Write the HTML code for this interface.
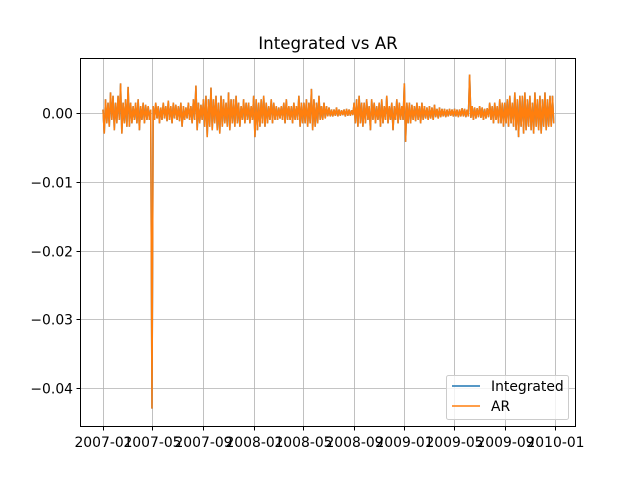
<!DOCTYPE html>
<html><head><meta charset="utf-8"><style>
body{margin:0;background:#fff}
svg{display:block;font-family:"DejaVu Sans","Liberation Sans",sans-serif}
</style></head><body>
<svg id="chart" width="640" height="480">
<rect width="640" height="480" fill="#fff"/>
<text x="328" y="49" font-size="16.7" text-anchor="middle">Integrated vs AR</text>
<g id="grid"></g><g id="series"></g><g id="axes"></g>
<rect x="80.5" y="58.5" width="495" height="368" fill="none" stroke="#000" stroke-width="1"/>
<g>
<rect x="446.5" y="375.5" width="122" height="44" rx="2" fill="#fff" fill-opacity="0.8" stroke="#ccc"/>
<g><line x1="452" y1="386" x2="480" y2="386" stroke="#1f77b4" stroke-width="1.5"/><text x="491" y="391" font-size="13.9">Integrated</text></g>
<g><line x1="452" y1="406" x2="480" y2="406" stroke="#ff7f0e" stroke-width="1.5"/><text x="491" y="411" font-size="13.9">AR</text></g>
</g>
</svg>
<script>
const yTicks=[0,-0.01,-0.02,-0.03,-0.04];
const yTickLabels=["0.00","−0.01","−0.02","−0.03","−0.04"];
const xTickLabels=["2007-01","2007-05","2007-09","2008-01","2008-05","2008-09","2009-01","2009-05","2009-09","2010-01"];
const xTickDates=["2007-01-01","2007-05-01","2007-09-01","2008-01-01","2008-05-01","2008-09-01","2009-01-01","2009-05-01","2009-09-01","2010-01-01"];
const startDate="2007-01-01", endDate="2010-01-01";
// per-period high and low values (x1e-3)
const arHigh=[
0.5,2,1.5,3,2.5,1.5,2.5,4.3,1.5,2,3.8,1.5,1,1.5,2,1,1.5,1.2,1,0.5,
1,1.5,1,0.8,1.5,1,1.8,1,1.5,1.2,1,1.5,1,0.8,1.5,1,2,4,1.5,1.2,
2,2.5,2,3.7,2,2.5,1.5,2.5,2,1.5,3,2,2,2.5,1.5,1,2,1.5,1.5,1,
2.5,2,1.5,2,2.5,1.5,1,2,1.5,1,0.8,1,1.5,2,1,1,1.5,1,2.5,1.5,
1.5,2,1.5,3.5,2,1.5,2.5,1,1.5,1,0.8,0.5,0.5,0.8,0.5,0.4,0.5,0.6,0.5,0.4,
1.5,2,2.5,1.5,1.5,2,1,2,1.5,1,1.5,2,1,2.5,1,1.5,1,2,1.5,1,
4.3,1.5,1.5,1.2,1,1.5,1,1.5,1,0.8,1,0.8,1.2,0.6,0.8,0.6,0.6,0.5,0.6,0.5,
0.6,0.5,0.5,0.7,0.6,0.5,5.6,1,0.8,0.7,1,0.8,0.6,0.7,1.5,1,1.5,1,2,1.5,
1.5,2,2.5,1.5,3,2,2.5,2.5,3,2,2.5,1.5,3,2,2.5,2,3,2,2.5,2.5];
const arLow=[
-3,-1.5,-2,-1,-2.5,-1.5,-1,-3,-1.5,-2,-2,-1.5,-1,-1.5,-2.5,-1,-1.5,-1,-1,-43,
-1,-0.8,-1.5,-1,-0.8,-1.2,-1,-1.5,-0.8,-1,-1.2,-2,-1,-0.8,-1,-1.5,-1,-2.5,-1.5,-1,
-2,-3.5,-2,-2.5,-1.5,-2.5,-3,-2,-1.5,-2,-2.5,-1.5,-2,-1.5,-2,-1,-1.5,-1,-1.5,-1,
-3.5,-2.5,-2,-1.5,-2,-1.5,-1,-1.5,-1,-1,-0.8,-1,-1.5,-1,-1,-1.5,-1,-1,-2,-1.5,
-1.5,-2,-1.5,-2.5,-2,-1.5,-1,-1,-0.8,-0.5,-0.5,-0.5,-0.4,-0.5,-0.4,-0.3,-0.5,-0.4,-0.4,-0.3,
-1.5,-2,-1.5,-2,-1.5,-1,-2.5,-1,-1.5,-1,-2,-1.5,-1,-1.5,-1,-2.5,-1,-1.5,-1,-1,
-4.2,-1.5,-1.5,-1,-1.2,-1,-1.5,-1,-0.8,-1,-0.8,-1,-0.6,-0.8,-0.6,-0.5,-0.6,-0.5,-0.4,-0.5,
-0.5,-0.6,-0.5,-0.5,-0.6,-0.5,-0.7,-1,-0.8,-0.6,-0.7,-1,-0.8,-0.6,-1,-1.5,-1,-1.5,-1.5,-2,
-1.5,-2,-1.5,-2,-2.5,-3.5,-2,-3,-2.5,-2,-2.5,-3,-2,-2.5,-3,-2,-2.5,-2,-2,-1.5];
const integratedHigh=arHigh.slice();
const integratedLow=arLow.slice();

const NS="http://www.w3.org/2000/svg";
const t0=Date.parse(startDate), t1=Date.parse(endDate);
const xOf=t=>103+(t-t0)/(t1-t0)*452;
const yOf=v=>113-v/0.01*68.75;
function mk(tag,attrs,parent){const e=document.createElementNS(NS,tag);for(const k in attrs)e.setAttribute(k,attrs[k]);parent.appendChild(e);return e;}
const grid=document.getElementById('grid'),axes=document.getElementById('axes'),ser=document.getElementById('series');
yTicks.forEach((v,i)=>{const y=Math.round(yOf(v))+0.5;
 const g=mk('line',{x1:80,x2:576,y1:y,y2:y,stroke:'#b0b0b0','stroke-width':0.8},grid);
 
 
 mk('line',{x1:76.5,x2:80,y1:y,y2:y,stroke:'#000'},axes);
 const t=mk('text',{x:73,y:y+5,'font-size':13.9,'text-anchor':'end'},axes);t.textContent=yTickLabels[i];
 
 
});
xTickDates.forEach((d,i)=>{const x=Math.round(xOf(Date.parse(d)))+0.5;
 const g=mk('line',{x1:x,x2:x,y1:58,y2:427,stroke:'#b0b0b0','stroke-width':0.8},grid);
 
 
 mk('line',{x1:x,x2:x,y1:427,y2:430.5,stroke:'#000'},axes);
 const t=mk('text',{x:x,y:447,'font-size':13.9,'text-anchor':'middle'},axes);t.textContent=xTickLabels[i];
 
 
});
function pathFor(hi,lo){const n=hi.length;const step=(t1-t0)/n;let d='';
 for(let i=0;i<n;i++){const ta=t0+step*i, tb=t0+step*(i+0.5);
  d+=(i?'L':'M')+xOf(ta).toFixed(2)+','+yOf(hi[i]/1000).toFixed(2);
  d+='L'+xOf(tb).toFixed(2)+','+yOf(lo[i]/1000).toFixed(2);}
 return d;}
const p1=mk('path',{d:pathFor(integratedHigh,integratedLow),fill:'none',stroke:'#1f77b4','stroke-width':1.5},ser);


const p2=mk('path',{d:pathFor(arHigh,arLow),fill:'none',stroke:'#ff7f0e','stroke-width':1.5},ser);


</script>
</body></html>
